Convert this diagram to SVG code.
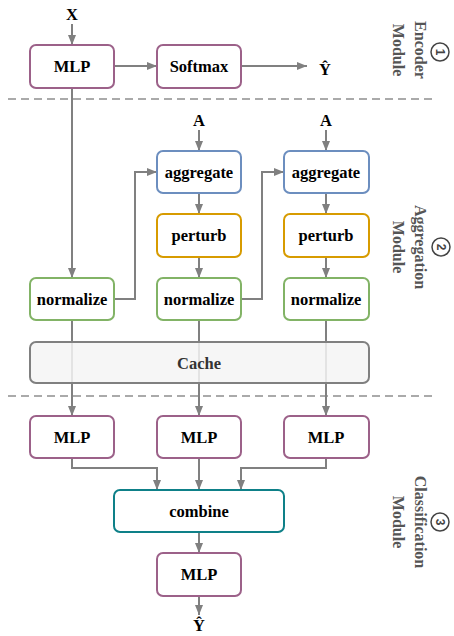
<svg xmlns="http://www.w3.org/2000/svg" width="454" height="636" viewBox="0 0 454 636">
<defs>
<marker id="ah" viewBox="0 0 10 8" refX="10" refY="4" markerWidth="10" markerHeight="8" markerUnits="userSpaceOnUse" orient="auto">
<path d="M0,0 L10,4 L0,8 z" fill="#808080"/>
</marker>
</defs>
<style>
.box{fill:#fff;stroke-width:2}
.mlp{stroke:#9c6189}
.soft{stroke:#9c6189}
.agg{stroke:#6c8ebf}
.per{stroke:#d79b00}
.nor{stroke:#82b366}
.com{stroke:#0e8088}
.cache{fill:#f5f5f5;fill-opacity:0.85;stroke:#808080;stroke-width:2}
.t{font-family:"Liberation Serif","Times New Roman",serif;font-weight:bold;font-size:16.5px;text-anchor:middle;fill:#000}
.ct{fill:#333}
.lab{font-family:"Liberation Serif","Times New Roman",serif;font-weight:bold;font-size:16px;text-anchor:middle;fill:#555}
.num{font-family:"Liberation Sans",Arial,sans-serif;font-weight:bold;font-size:12px;text-anchor:middle;fill:#444}
.c{fill:none;stroke:#808080;stroke-width:2;marker-end:url(#ah)}
.dash{stroke:#aaa;stroke-width:2;stroke-dasharray:8 5}
</style>
<rect width="454" height="636" fill="#fff"/>

<g id="separators">
<line class="dash" x1="8" y1="99" x2="432" y2="99"/>
<line class="dash" x1="8" y1="396" x2="432" y2="396"/>
</g>

<g id="connectors">
<path class="c" d="M72,24 L72,45"/>
<path class="c" d="M114,66 L157,66"/>
<path class="c" d="M241,66 L307,66"/>
<path class="c" d="M72,88 L72,278"/>
<path class="c" d="M199,130 L199,151"/>
<path class="c" d="M326,130 L326,151"/>
<path class="c" d="M199,193 L199,214"/>
<path class="c" d="M199,257 L199,278"/>
<path class="c" d="M326,193 L326,214"/>
<path class="c" d="M326,257 L326,278"/>
<path class="c" d="M114,299 L135,299 L135,172 L157,172"/>
<path class="c" d="M241,299 L262,299 L262,172 L284,172"/>
<path class="c" d="M72,320 L72,416"/>
<path class="c" d="M199,320 L199,416"/>
<path class="c" d="M326,320 L326,416"/>
<path class="c" d="M72,458 L72,468 L157,468 L157,490"/>
<path class="c" d="M199,458 L199,490"/>
<path class="c" d="M326,458 L326,468 L241,468 L241,490"/>
<path class="c" d="M199,532 L199,553"/>
<path class="c" d="M199,596 L199,615"/>
</g>

<g id="labels-io">
<text class="t" x="72" y="20">X</text>
<text class="t" x="325" y="75">Ŷ</text>
<text class="t" x="199" y="126">A</text>
<text class="t" x="326" y="126">A</text>
<text class="t" x="199" y="631">Ŷ</text>
</g>

<g id="enc-mlp"><rect class="box mlp" x="30" y="45" width="84" height="43" rx="6"/><text class="t" x="72" y="72">MLP</text></g>
<g id="softmax"><rect class="box soft" x="157" y="45" width="84" height="43" rx="6"/><text class="t" x="199" y="72">Softmax</text></g>

<g id="normalize1"><rect class="box nor" x="30" y="278" width="84" height="42" rx="6"/><text class="t" x="72" y="305">normalize</text></g>
<g id="aggregate2"><rect class="box agg" x="157" y="151" width="84" height="42" rx="6"/><text class="t" x="199" y="178">aggregate</text></g>
<g id="perturb2"><rect class="box per" x="157" y="214" width="84" height="43" rx="6"/><text class="t" x="199" y="241">perturb</text></g>
<g id="normalize2"><rect class="box nor" x="157" y="278" width="84" height="42" rx="6"/><text class="t" x="199" y="305">normalize</text></g>
<g id="aggregate3"><rect class="box agg" x="284" y="151" width="85" height="42" rx="6"/><text class="t" x="326" y="178">aggregate</text></g>
<g id="perturb3"><rect class="box per" x="284" y="214" width="85" height="43" rx="6"/><text class="t" x="326" y="241">perturb</text></g>
<g id="normalize3"><rect class="box nor" x="284" y="278" width="85" height="42" rx="6"/><text class="t" x="326" y="305">normalize</text></g>

<g id="cache"><rect class="cache" x="30" y="342" width="339" height="41" rx="6"/><text class="t ct" x="199" y="369">Cache</text></g>

<g id="mlp1"><rect class="box mlp" x="30" y="416" width="84" height="42" rx="6"/><text class="t" x="72" y="443">MLP</text></g>
<g id="mlp2"><rect class="box mlp" x="157" y="416" width="84" height="42" rx="6"/><text class="t" x="199" y="443">MLP</text></g>
<g id="mlp3"><rect class="box mlp" x="284" y="416" width="85" height="42" rx="6"/><text class="t" x="326" y="443">MLP</text></g>
<g id="combine"><rect class="box com" x="114" y="490" width="170" height="42" rx="6"/><text class="t" x="199" y="517">combine</text></g>
<g id="mlp-out"><rect class="box mlp" x="157" y="553" width="84" height="43" rx="6"/><text class="t" x="199" y="580">MLP</text></g>

<g id="module-encoder">
<circle cx="440" cy="52" r="9" fill="none" stroke="#444" stroke-width="1.5"/>
<text class="num" transform="translate(436,52) rotate(90)">1</text>
<text class="lab" transform="translate(415,50) rotate(90)">Encoder</text>
<text class="lab" transform="translate(393,50) rotate(90)">Module</text>
</g>
<g id="module-aggregation">
<circle cx="441" cy="247" r="9" fill="none" stroke="#444" stroke-width="1.5"/>
<text class="num" transform="translate(437,247) rotate(90)">2</text>
<text class="lab" transform="translate(415,247) rotate(90)">Aggregation</text>
<text class="lab" transform="translate(393,247) rotate(90)">Module</text>
</g>
<g id="module-classification">
<circle cx="440" cy="522" r="9" fill="none" stroke="#444" stroke-width="1.5"/>
<text class="num" transform="translate(436,522) rotate(90)">3</text>
<text class="lab" transform="translate(415,522) rotate(90)">Classification</text>
<text class="lab" transform="translate(393,522) rotate(90)">Module</text>
</g>
</svg>
